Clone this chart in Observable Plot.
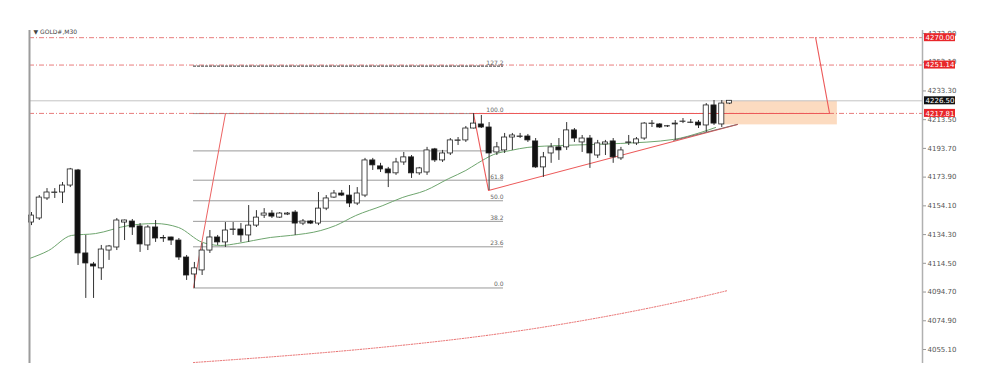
<!DOCTYPE html>
<html><head><meta charset="utf-8">
<script src="https://cdn.jsdelivr.net/npm/d3@7"></script>
<script src="https://cdn.jsdelivr.net/npm/@observablehq/plot@0.6"></script>
<style>html,body{margin:0;padding:0;background:#fff;overflow:hidden}svg{display:block}</style>
</head><body><div id="chart"></div>
<script>
const symbolLabel = "▼ GOLD#,M30";
const opens = [4142.6,4145.4,4159.2,4162.9,4163.3,4168.1,4178.5,4121.3,4113.7,4111.0,
4123.3,4125.4,4142.6,4143.3,4139.9,4126.8,4139.2,4131.6,4132.3,4130.2,
4118.5,4106.8,4109.6,4123.3,4132.3,4128.9,4137.5,4137.8,4133.7,4140.5,
4147.4,4148.8,4146.0,4148.1,4149.5,4141.9,4143.3,4141.9,4152.2,4159.8,
4162.6,4161.2,4155.7,4161.2,4185.4,4181.3,4179.2,4176.5,4184.0,4187.5,
4176.5,4177.1,4193.0,4185.4,4190.2,4198.9,4199.2,4207.4,4210.2,4208.1,
4190.9,4192.3,4201.2,4201.6,4201.9,4198.5,4180.6,4190.2,4194.4,4194.4,
4206.1,4197.8,4200.5,4188.8,4196.4,4198.5,4186.8,4197.5,4197.1,4200.5,
4210.5,4210.2,4208.8,4210.2,4212.0,4211.3,4211.5,4209.5,4223.3,4210.2,4224.6];
const closes = [4147.4,4159.8,4163.3,4163.3,4168.1,4179.2,4121.3,4114.4,4112.3,4124.0,
4126.1,4144.0,4144.0,4139.2,4127.5,4139.2,4131.6,4131.9,4130.2,4118.5,
4106.1,4111.0,4123.3,4132.3,4128.9,4137.1,4137.8,4133.7,4140.5,4146.0,
4148.8,4146.7,4148.8,4148.8,4141.9,4143.3,4141.9,4152.2,4159.2,4162.6,
4161.2,4155.7,4162.6,4185.4,4182.0,4179.2,4176.5,4184.0,4187.5,4176.5,
4179.9,4192.3,4185.4,4190.2,4199.2,4199.2,4207.4,4210.8,4208.1,4190.2,
4194.4,4201.2,4202.6,4201.9,4199.2,4180.6,4187.5,4194.4,4192.3,4206.1,
4200.5,4200.5,4190.2,4197.1,4197.8,4187.5,4192.3,4197.8,4199.9,4210.8,
4210.8,4208.1,4209.0,4210.8,4212.2,4211.5,4209.5,4223.3,4210.8,4224.6,4226.5];
const highs = [4149.5,4161.2,4166.0,4166.0,4170.2,4179.9,4179.2,4133.7,4115.1,4126.8,
4126.8,4145.4,4144.3,4144.7,4141.9,4140.5,4144.0,4133.7,4132.5,4131.6,
4119.9,4115.1,4128.2,4137.1,4133.7,4142.6,4142.6,4141.9,4154.3,4150.8,
4152.2,4150.8,4149.5,4149.5,4150.8,4144.7,4144.0,4163.3,4161.2,4164.7,
4164.7,4168.1,4166.7,4186.8,4186.8,4183.4,4180.6,4186.8,4190.9,4188.8,
4180.6,4194.4,4193.7,4192.3,4200.5,4201.2,4208.8,4217.7,4216.4,4211.5,
4197.8,4204.0,4204.0,4204.0,4203.3,4200.5,4190.9,4197.1,4200.5,4211.5,
4207.4,4202.6,4202.6,4199.2,4199.2,4200.5,4194.4,4202.6,4201.2,4211.5,
4212.9,4210.8,4209.5,4212.9,4214.3,4213.6,4212.9,4224.6,4226.7,4226.7,4226.7];
const lows = [4140.5,4144.0,4157.8,4159.2,4155.7,4166.7,4113.0,4090.3,4090.3,4102.7,
4116.5,4123.3,4130.2,4133.7,4122.0,4123.3,4128.9,4128.9,4126.8,4116.5,
4102.7,4097.2,4106.1,4121.3,4126.8,4125.4,4133.7,4128.9,4128.9,4139.2,
4145.4,4145.4,4145.4,4147.4,4133.7,4140.5,4141.2,4140.5,4150.8,4159.2,
4160.5,4152.9,4154.3,4159.8,4178.5,4177.1,4166.7,4175.1,4182.0,4173.0,
4175.1,4175.1,4184.0,4184.0,4188.8,4195.7,4197.8,4207.1,4207.4,4164.7,
4188.8,4190.2,4192.3,4200.5,4197.8,4179.9,4173.7,4183.4,4185.4,4192.3,
4197.8,4190.9,4179.9,4186.8,4188.8,4183.4,4185.4,4195.7,4195.7,4199.2,
4208.1,4207.4,4208.1,4199.2,4210.8,4210.8,4207.4,4204.7,4209.5,4208.1,4223.9];

const yTicks = [4055.1,4074.9,4094.7,4114.5,4134.3,4154.1,4173.9,4193.7,4213.5,4233.3,4253.1,4272.9];

// moving average (bar index, price)
const maIndex = [0.74,3.2,6.16,9.25,13.5,17.0,19.95,23.05,25.4,27.6,29.6,31.8,34.4,38.3,40.2,42.8,46.3,48.8,51.8,54.8,57.0,58.5,60.6,62.8,65.0,69.2,73.5,76.9,83.8,87.3,89.2];
const maValue = [4117.8,4123.3,4133.7,4135.0,4140.5,4141.9,4139.2,4128.9,4126.8,4128.2,4130.2,4132.3,4133.7,4137.1,4140.5,4147.4,4154.3,4159.8,4164.7,4172.9,4178.5,4183.4,4189.5,4192.3,4194.4,4195.7,4196.4,4197.1,4199.9,4204.7,4208.1];

// lower dotted envelope
const envIndex = [21.89,35.68,48.58,61.47,74.36,84.68,90.74];
const envValue = [4046.1,4051.6,4057.9,4066.1,4077.2,4088.2,4095.7];

// fibonacci retracement
const fibRatios = [0, 23.6, 38.2, 50, 61.8, 78.6, 100];
const fibLabels = ["0.0","23.6","38.2","50.0","61.8","","100.0"];
const fibExt = 127.2;
const fibExtLabel = "127.2";
const fibLow = 4097.5, fibHigh = 4217.7;
const fibStart = 21.89, fibEnd = 61.86;

// drawn lines
const fanIndex = [21.89, 26.01];
const fanValue = [4097.9, 4217.7];
const triIndex = [92.03, 59.92, 57.99, 103.9, 102.1];
const triValue = [4210.2, 4164.7, 4217.7, 4217.7, 4270.1];
const grayIndex = [83.8, 92.0];
const grayValue = [4199.2, 4210.2];
const zoneIndex = [90.2, 104.9];
const zoneValue = [4209.9, 4226.2];

const levelPrices = [4270.00, 4251.14, 4217.81];
const levelLabels = ["4270.00", "4251.14", "4217.81"];
const currentPrice = 4226.50;
const currentLabel = "4226.50";

// ---- build ----
const W = 1000, H = 389;
const mL = 29, mR = 78, mT = 30, mB = 26;
const xDom = [0.742, 115.88];
const yDom = [4045.45, 4274.95];
const pxPerIdx = (W - mL - mR) / (xDom[1] - xDom[0]);
const pxPerPrice = (H - mT - mB) / (yDom[1] - yDom[0]);

const candles = opens.map((o, k) => ({i: k + 1, o, c: closes[k], h: highs[k], l: lows[k]}));
const ma = maIndex.map((i, k) => ({i, v: maValue[k]}));
const env = envIndex.map((i, k) => ({i, v: envValue[k]}));
const fan = fanIndex.map((i, k) => ({i, v: fanValue[k]}));
const tri = triIndex.map((i, k) => ({i, v: triValue[k]}));
const gtr = grayIndex.map((i, k) => ({i, v: grayValue[k]}));
const fib = fibRatios.map((r, k) => ({v: fibLow + (fibHigh - fibLow) * r / 100, label: fibLabels[k]}));
const fibE = {v: fibLow + (fibHigh - fibLow) * fibExt / 100, label: fibExtLabel};

const tagX1 = xDom[1] + 2 / pxPerIdx, tagX2 = xDom[1] + 33 / pxPerIdx;
const tagH = 4 / pxPerPrice;
const tags = levelPrices.map((p, k) => ({p, label: levelLabels[k], fill: "#e8262a"}))
  .concat([{p: currentPrice, label: currentLabel, fill: "#111"}]);

const chart = Plot.plot({
  width: W, height: H,
  marginLeft: mL, marginRight: mR, marginTop: mT, marginBottom: mB,
  style: {fontFamily: "DejaVu Sans, sans-serif", background: "white", overflow: "visible"},
  x: {domain: xDom, axis: null},
  y: {domain: yDom, axis: null},
  marks: [
    // orange zone
    Plot.rect([0], {x1: zoneIndex[0], x2: zoneIndex[1], y1: zoneValue[0], y2: zoneValue[1], fill: "#fbc89e", fillOpacity: 0.65}),
    // fib levels
    Plot.ruleY(fib, {y: "v", x1: fibStart, x2: fibEnd, stroke: "#9a9a9a", strokeWidth: 1}),
    // current price line
    Plot.ruleY([currentPrice], {stroke: "#c4c4c4", strokeWidth: 1}),
    // red dash-dot levels
    Plot.ruleY(levelPrices, {stroke: "#e25a5a", strokeWidth: 0.8, strokeDasharray: "5,2,1,2"}),
    Plot.ruleY([fibE], {y: "v", x1: fibStart, x2: fibEnd, stroke: "#5a5a5a", strokeWidth: 1.2, strokeDasharray: "3,1"}),
    Plot.text(fib.concat([fibE]), {x: fibEnd, y: "v", text: "label", textAnchor: "end", dy: -3.5, fontSize: 6, fill: "#666"}),
    // green MA
    Plot.line(ma, {x: "i", y: "v", stroke: "#6ea56e", strokeWidth: 1, curve: "monotone-x"}),
    // lower dotted envelope
    Plot.line(env, {x: "i", y: "v", stroke: "#e86a6a", strokeWidth: 1, strokeDasharray: "1.2,1.5", curve: "natural"}),
    // drawn red lines
    Plot.line(fan, {x: "i", y: "v", stroke: "#ec6262", strokeWidth: 1}),
    Plot.line(tri, {x: "i", y: "v", stroke: "#ec5a5a", strokeWidth: 1.1}),
    Plot.line(gtr, {x: "i", y: "v", stroke: "#8a6a6a", strokeWidth: 1}),
    // candles
    Plot.ruleX(candles, {x: "i", y1: "l", y2: "h", stroke: "#333", strokeWidth: 1}),
    Plot.rect(candles, {x1: d => d.i - 0.33, x2: d => d.i + 0.33, y1: "o", y2: "c",
      fill: d => d.c >= d.o ? "white" : "#111", stroke: "#222", strokeWidth: 0.8}),
    // frame lines
    Plot.ruleX([xDom[0]], {stroke: "#9c9c9c", strokeWidth: 2}),
    Plot.ruleX([xDom[1]], {stroke: "#b0b0b0", strokeWidth: 1.5}),
    // y axis
    Plot.axisY(yTicks, {anchor: "right", tickSize: 3, tickPadding: 2, fontSize: 7, tickFormat: d => d.toFixed(2), color: "#555", stroke: "#999"}),
    // price tags
    Plot.rect(tags, {x1: tagX1, x2: tagX2, y1: d => d.p - tagH, y2: d => d.p + tagH, fill: "fill"}),
    Plot.text(tags, {x: xDom[1], y: "p", dx: 17.5, text: "label", fill: "white", fontSize: 7, textAnchor: "middle"}),
    // symbol label
    Plot.text([symbolLabel], {frameAnchor: "top-left", dx: 4, dy: -1, fontSize: 6, fill: "#444", textAnchor: "start"})
  ]
});
document.getElementById("chart").appendChild(chart);
</script>
</body></html>
